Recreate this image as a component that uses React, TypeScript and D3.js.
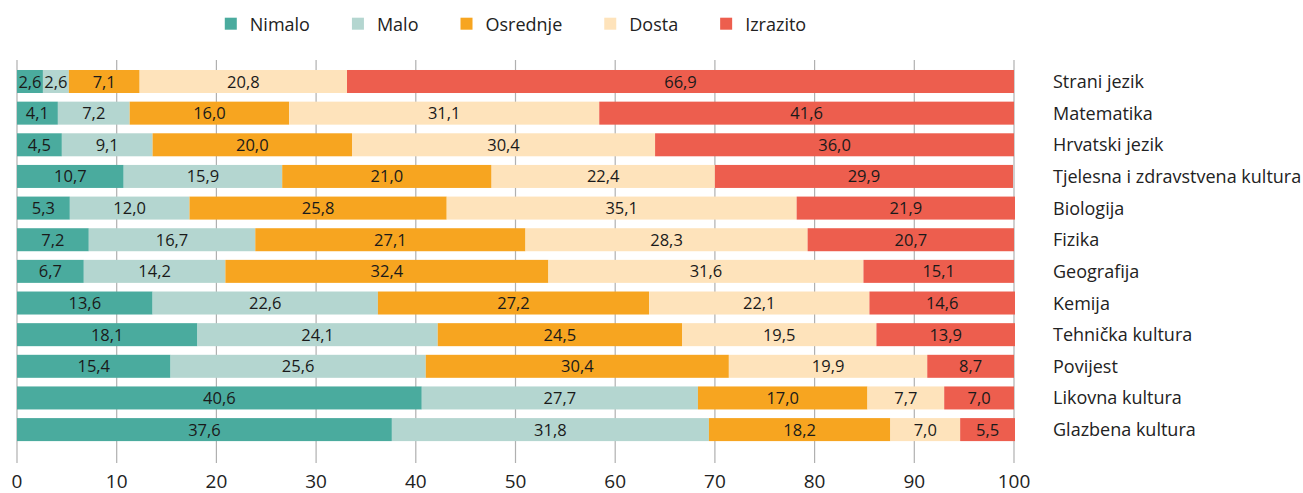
import React, { useEffect, useRef } from 'react';
import * as d3 from 'd3';

// predmeti, odozgo prema dolje
const subjects = [
  'Strani jezik', 'Matematika', 'Hrvatski jezik', 'Tjelesna i zdravstvena kultura',
  'Biologija', 'Fizika', 'Geografija', 'Kemija', 'Tehnička kultura', 'Povijest',
  'Likovna kultura', 'Glazbena kultura',
];
const seriesNames = ['Nimalo', 'Malo', 'Osrednje', 'Dosta', 'Izrazito'];
const colors = ['#4aab9e', '#b4d6d0', '#f7a520', '#fee3bb', '#ed5e4e'];

const nimalo = [2.6, 4.1, 4.5, 10.7, 5.3, 7.2, 6.7, 13.6, 18.1, 15.4, 40.6, 37.6];
const malo = [2.6, 7.2, 9.1, 15.9, 12.0, 16.7, 14.2, 22.6, 24.1, 25.6, 27.7, 31.8];
const osrednje = [7.1, 16.0, 20.0, 21.0, 25.8, 27.1, 32.4, 27.2, 24.5, 30.4, 17.0, 18.2];
const dosta = [20.8, 31.1, 30.4, 22.4, 35.1, 28.3, 31.6, 22.1, 19.5, 19.9, 7.7, 7.0];
const izrazito = [66.9, 41.6, 36.0, 29.9, 21.9, 20.7, 15.1, 14.6, 13.9, 8.7, 7.0, 5.5];

const xTicks = [0, 10, 20, 30, 40, 50, 60, 70, 80, 90, 100];

const W = 1303;
const H = 493;
const FONT = '"Open Sans", sans-serif';

export default function App() {
  const ref = useRef<SVGSVGElement>(null);

  useEffect(() => {
    const svg = d3.select(ref.current);
    svg.selectAll('*').remove();

    const x = d3.scaleLinear().domain([0, 100]).range([17, 1014]);
    const y = d3.scaleBand().domain(subjects).range([66.2, 444.9]).paddingInner(0.273).paddingOuter(0.12);

    const table = subjects.map((s, i) => ({
      subject: s,
      Nimalo: nimalo[i], Malo: malo[i], Osrednje: osrednje[i], Dosta: dosta[i], Izrazito: izrazito[i],
    }));
    const stack = d3.stack<any>().keys(seriesNames)(table);

    // mreža
    svg.append('g')
      .selectAll('line')
      .data(xTicks)
      .join('line')
      .attr('x1', d => x(d)).attr('x2', d => x(d))
      .attr('y1', 60).attr('y2', 463)
      .attr('stroke', '#b0b0b0').attr('stroke-width', 1.2);

    svg.append('g')
      .selectAll('text')
      .data(xTicks)
      .join('text')
      .attr('x', d => x(d)).attr('y', 488)
      .attr('text-anchor', 'middle')
      .attr('font-size', 19).attr('font-family', FONT).attr('fill', '#222')
      .text(d => d);

    const layers = svg.append('g').selectAll('g')
      .data(stack)
      .join('g')
      .attr('fill', (d, i) => colors[i]);

    layers.selectAll('rect')
      .data(d => d)
      .join('rect')
      .attr('x', d => x(d[0]))
      .attr('width', d => x(d[1]) - x(d[0]))
      .attr('y', d => y(d.data.subject)!)
      .attr('height', y.bandwidth());

    layers.selectAll('text')
      .data(d => d.map(v => ({ v, key: d.key })))
      .join('text')
      .attr('x', d => (x(d.v[0]) + x(d.v[1])) / 2)
      .attr('y', d => y(d.v.data.subject)! + y.bandwidth() / 2 + 6)
      .attr('text-anchor', 'middle')
      .attr('font-size', 16.5).attr('font-family', FONT).attr('fill', '#1a1a1a')
      .text(d => d3.format('.1f')(d.v.data[d.key]).replace('.', ','));

    // nazivi predmeta
    svg.append('g')
      .selectAll('text')
      .data(subjects)
      .join('text')
      .attr('x', 1053)
      .attr('y', d => y(d)! + y.bandwidth() / 2 + 6.5)
      .attr('font-size', 18).attr('font-family', FONT).attr('fill', '#222')
      .text(d => d);

    // legenda
    const legend = svg.append('g');
    const items = legend.selectAll('g').data(seriesNames).join('g');
    items.append('rect').attr('width', 12).attr('height', 12).attr('y', 17.7)
      .attr('fill', (d, i) => colors[i]);
    items.append('text').attr('x', 25).attr('y', 30.5)
      .attr('font-size', 18).attr('font-family', FONT).attr('fill', '#222')
      .text(d => d);
    let cx = 0;
    items.each(function () {
      const g = d3.select(this);
      g.attr('transform', `translate(${cx},0)`);
      const w = (g.select('text').node() as SVGTextElement).getComputedTextLength();
      cx += 25 + w + 42;
    });
    const total = cx - 42;
    legend.attr('transform', `translate(${(x(0) + x(100)) / 2 - total / 2},0)`);
  }, []);

  return (
    <svg ref={ref} width={W} height={H} style={{ position: 'absolute', left: 0, top: 0, background: '#fff' }} />
  );
}
